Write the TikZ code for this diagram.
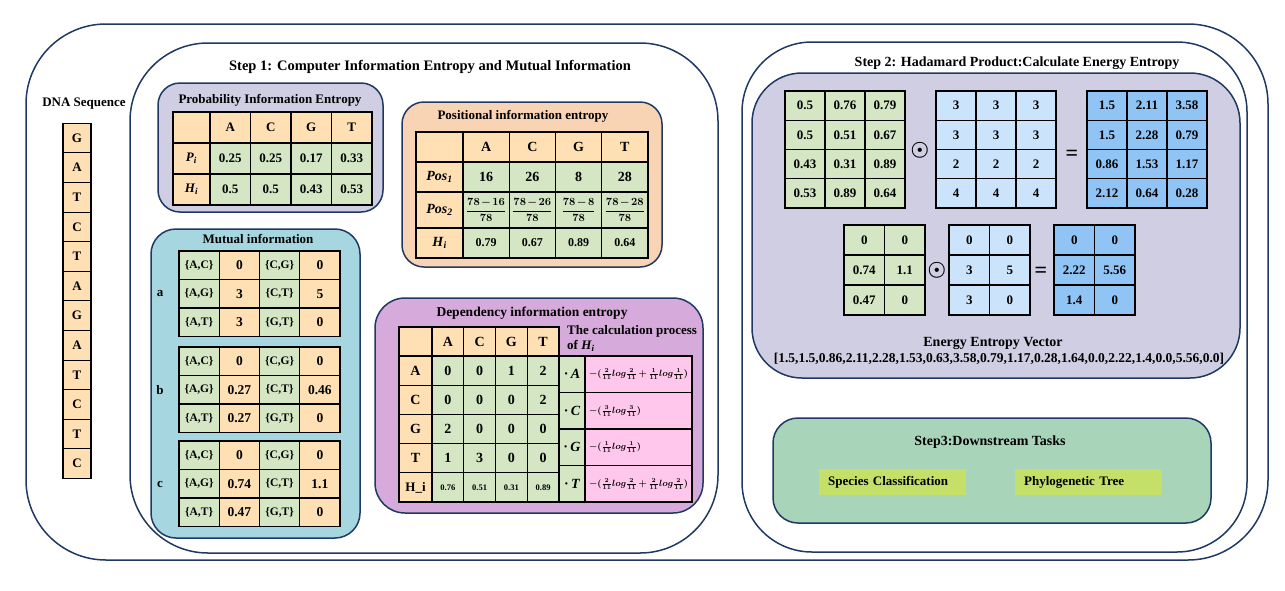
\documentclass[tikz,border=0pt]{standalone}
\usepackage{fontspec}
\setmainfont{Liberation Serif}
\usepackage{amsmath}

\definecolor{navy}{RGB}{31,56,100}
\definecolor{lavender}{RGB}{208,206,226}
\definecolor{peach}{RGB}{248,212,180}
\definecolor{miteal}{RGB}{166,215,224}
\definecolor{deppurple}{RGB}{214,170,219}
\definecolor{cellorange}{RGB}{254,224,180}
\definecolor{cellgreen}{RGB}{212,230,196}
\definecolor{calcpink}{RGB}{255,199,236}
\definecolor{lightblue}{RGB}{204,228,251}
\definecolor{midblue}{RGB}{143,196,245}
\definecolor{stepgreen}{RGB}{168,212,186}
\definecolor{tasklime}{RGB}{197,224,105}

\newcommand\fsz[1]{\fontsize{#1}{#1}\selectfont\bfseries\boldmath}
\newcommand\itsub[2]{\textit{#1}\textsubscript{\textit{#2}}}

\tikzset{
  frame/.style={draw=navy, line width=1.5pt},
  cellbox/.style={draw=black, line width=1.1pt, inner sep=0pt, font=\fsz{13}},
  ocell/.style={cellbox, fill=cellorange},
  gcell/.style={cellbox, fill=cellgreen},
  pcell/.style={cellbox, fill=calcpink},
  lbcell/.style={cellbox, fill=lightblue},
  bcell/.style={cellbox, fill=midblue},
  boxtitle/.style={font=\fsz{13}},
  tasknode/.style={fill=tasklime, inner xsep=9pt, text width=129pt, minimum height=26pt, anchor=west, font=\fsz{13}}
}

\begin{document}
\begin{tikzpicture}[x=1pt,y=-1pt]
\useasboundingbox (0,0) rectangle (1285,590);

% Outer frame and the two step frames
\draw[frame, rounded corners=80pt] (26,24) rectangle (1268,560);
\draw[frame, rounded corners=78pt] (130,43) rectangle (718,553);
\draw[frame, rounded corners=70pt] (742,42) rectangle (1247,552);

% DNA sequence (left)
\node[font=\fsz{13}] (dnatitle) at (84,104) {DNA Sequence};
\foreach \b [count=\i] in {G,A,T,C,T,A,G,A,T,C,T,C}
  \node[ocell, minimum width=28pt, minimum height=29.6pt] (dna\i) at (77,{123.3+29.6*(\i-0.5)}) {\b};

% Step 1
\node[font=\fsz{14.5}] (steponetitle) at (430,67) {Step 1: Computer Information Entropy and Mutual Information};

% Probability information entropy
\draw[frame, fill=lavender, rounded corners=22pt] (158,83) rectangle (383,212);
\node[boxtitle] (probtitle) at (270,100) {Probability Information Entropy};
\begin{scope}[every node/.append style={minimum width=40.5pt, minimum height=31pt, font=\fsz{14}}]
  \foreach \n/\y [count=\r] in {{}/127.5, \itsub{P}{i}/158.5, \itsub{H}{i}/189.5}
    \node[ocell, minimum width=37pt] (probr\r) at (191.5,\y) {\n};
  \foreach \b/\p/\h [count=\i] in {A/0.25/0.5, C/0.25/0.5, G/0.17/0.43, T/0.33/0.53}{
    \node[ocell] (probc\i) at ({210+40.5*(\i-0.5)},127.5) {\b};
    \node[gcell] (probp\i) at ({210+40.5*(\i-0.5)},158.5) {\p};
    \node[gcell] (probh\i) at ({210+40.5*(\i-0.5)},189.5) {\h};
  }
\end{scope}

% Positional information entropy
\draw[frame, fill=peach, rounded corners=22pt] (402,102) rectangle (662,267);
\node[boxtitle] (postitle) at (523,116) {Positional information entropy};
\begin{scope}[every node/.append style={minimum width=46.25pt}]
  \foreach \n/\y/\h [count=\r] in {{}/147/30, \itsub{Pos}{1}/177/30, \itsub{Pos}{2}/210/36, \itsub{H}{i}/243/30}
    \node[ocell, minimum width=47pt, minimum height=\h pt, font=\fsz{14}] (posr\r) at (439.5,\y) {\n};
  \foreach \b/\p/\h [count=\i] in {A/16/0.79, C/26/0.67, G/8/0.89, T/28/0.64}{
    \node[ocell, minimum height=30pt, font=\fsz{14}] (posc\i) at ({463+46.25*(\i-0.5)},147) {\b};
    \node[gcell, minimum height=30pt, font=\fsz{14}] (posa\i) at ({463+46.25*(\i-0.5)},177) {\p};
    \node[gcell, minimum height=36pt, font=\fsz{10.5}] (posb\i) at ({463+46.25*(\i-0.5)},210) {$\dfrac{78\mskip2mu{-}\mskip2mu\p}{78}$};
    \node[gcell, minimum height=30pt, font=\fsz{12}] (posh\i) at ({463+46.25*(\i-0.5)},243) {\h};
  }
\end{scope}

% Mutual information
\draw[frame, fill=miteal, rounded corners=25pt] (151,229) rectangle (360,538);
\node[boxtitle] (mititle) at (258,239) {Mutual information};
\foreach \tab/\ytop/\vag/\vct/\vat in {a/251/3/5/3, b/347/0.27/0.46/0.27, c/441/0.74/1.1/0.47}{
  \node[font=\fsz{13}] (mi\tab) at (160,{\ytop+43}) {\tab};
  \foreach \pa/\pb/\v/\qa/\qb/\w [count=\r] in {A/C/0/C/G/0, A/G/\vag/C/T/\vct, A/T/\vat/G/T/0}{
    \node[gcell, minimum width=40.25pt, minimum height=28.5pt, font=\fsz{11.5}] (mi\tab\r-p) at (199.1,{\ytop+28.5*(\r-0.5)}) {\{\pa,\pb\}};
    \node[ocell, minimum width=40.25pt, minimum height=28.5pt, font=\fsz{13.5}] (mi\tab\r-v) at (239.4,{\ytop+28.5*(\r-0.5)}) {\v};
    \node[gcell, minimum width=40.25pt, minimum height=28.5pt, font=\fsz{11.5}] (mi\tab\r-q) at (279.6,{\ytop+28.5*(\r-0.5)}) {\{\qa,\qb\}};
    \node[ocell, minimum width=40.25pt, minimum height=28.5pt, font=\fsz{13.5}] (mi\tab\r-w) at (319.9,{\ytop+28.5*(\r-0.5)}) {\w};
  }
}

% Dependency information entropy
\draw[frame, fill=deppurple, rounded corners=30pt] (375,298) rectangle (703,513);
\node[font=\fsz{13.5}] (deptitle) at (532,313) {Dependency information entropy};
\node[ocell, minimum width=33pt, minimum height=29pt] (dephead) at (415.5,341.5) {};
\foreach \b [count=\k] in {A,C,G,T}
  \node[ocell, minimum width=31.75pt, minimum height=29pt, font=\fsz{14}] (depc\k) at ({432+31.75*(\k-0.5)},341.5) {\b};
\foreach \n/\va/\vc/\vg/\vt [count=\r] in {A/0/0/1/2, C/0/0/0/2, G/2/0/0/0, T/1/3/0/0}{
  \node[ocell, minimum width=33pt, minimum height=29.2pt, font=\fsz{14}] (depr\r) at (415.5,{356+29.2*(\r-0.5)}) {\n};
  \foreach \v [count=\k] in {\va,\vc,\vg,\vt}
    \node[gcell, minimum width=31.75pt, minimum height=29.2pt, font=\fsz{14}] (dep\r\k) at ({432+31.75*(\k-0.5)},{356+29.2*(\r-0.5)}) {\v};
}
\node[ocell, minimum width=33pt, minimum height=29.2pt] (depr5) at (415.5,487.4) {H\_i};
\foreach \v [count=\k] in {0.76,0.51,0.31,0.89}
  \node[gcell, minimum width=31.75pt, minimum height=29.2pt, font=\fsz{8.5}] (deph\k) at ({432+31.75*(\k-0.5)},487.4) {\v};

% The calculation process
\node[font=\fsz{13}, align=left, anchor=north west, inner sep=0pt] (calctitle) at (567,325) {The calculation process\\[2pt]of \itsub{H}{i}};
\foreach \sym/\frm [count=\r] in {A/{$-(\frac{2}{11}log\frac{2}{11}+\frac{1}{11}log\frac{1}{11})$},
    C/{$-(\frac{3}{11}log\frac{3}{11})$},
    G/{$-(\frac{1}{11}log\frac{1}{11})$},
    T/{$-(\frac{2}{11}log\frac{2}{11}+\frac{2}{11}log\frac{2}{11})$}}{
  \node[gcell, minimum width=26pt, minimum height=36.5pt, font=\fsz{14}] (calcs\r) at (572,{356+36.5*(\r-0.5)}) {\textperiodcentered\,\textit{\sym}};
  \node[pcell, minimum width=107pt, minimum height=36.5pt, text width=99pt, align=left, font=\fsz{9}] (calcf\r) at (638.5,{356+36.5*(\r-0.5)}) {\frm};
}

% Step 2
\node[font=\fsz{14}] (steptwotitle) at (1017,63) {Step 2: Hadamard Product:Calculate Energy Entropy};
\draw[frame, fill=lavender, rounded corners=50pt] (752,73) rectangle (1240,378);

% First product (4 x 3)
\begin{scope}[every node/.append style={minimum width=40pt, minimum height=29.25pt, font=\fsz{13.5}}]
\foreach \row [count=\r] in {{0.5,0.76,0.79},{0.5,0.51,0.67},{0.43,0.31,0.89},{0.53,0.89,0.64}}
  \foreach \v [count=\k] in \row
    \node[gcell] (ma\r\k) at ({785+40*(\k-0.5)},{91+29.25*(\r-0.5)}) {\v};
\foreach \row [count=\r] in {{3,3,3},{3,3,3},{2,2,2},{4,4,4}}
  \foreach \v [count=\k] in \row
    \node[lbcell] (mb\r\k) at ({936+40*(\k-0.5)},{91+29.25*(\r-0.5)}) {\v};
\foreach \row [count=\r] in {{1.5,2.11,3.58},{1.5,2.28,0.79},{0.86,1.53,1.17},{2.12,0.64,0.28}}
  \foreach \v [count=\k] in \row
    \node[bcell] (mc\r\k) at ({1087+40*(\k-0.5)},{91+29.25*(\r-0.5)}) {\v};
\end{scope}
\node[font=\fsz{22}] (odota) at (920,150) {$\odot$};
\node[font=\fsz{22}] (eqa) at (1072,155) {=};

% Second product (3 x 2)
\begin{scope}[every node/.append style={minimum width=40.5pt, minimum height=30pt, font=\fsz{12.5}}]
\foreach \row [count=\r] in {{0,0},{0.74,1.1},{0.47,0}}
  \foreach \v [count=\k] in \row
    \node[gcell] (na\r\k) at ({844+40.5*(\k-0.5)},{225+30*(\r-0.5)}) {\v};
\foreach \row [count=\r] in {{0,0},{3,5},{3,0}}
  \foreach \v [count=\k] in \row
    \node[lbcell] (nb\r\k) at ({949+40.5*(\k-0.5)},{225+30*(\r-0.5)}) {\v};
\foreach \row [count=\r] in {{0,0},{2.22,5.56},{1.4,0}}
  \foreach \v [count=\k] in \row
    \node[bcell] (nc\r\k) at ({1054+40.5*(\k-0.5)},{225+30*(\r-0.5)}) {\v};
\end{scope}
\node[font=\fsz{22}] (odotb) at (937,270) {$\odot$};
\node[font=\fsz{22}] (eqb) at (1041,272) {=};

% Energy entropy vector
\node[font=\fsz{14}] (vectitle) at (993,343) {Energy Entropy Vector};
\node[font=\fsz{13.5}] (vecvals) at (999,359) {[1.5,1.5,0.86,2.11,2.28,1.53,0.63,3.58,0.79,1.17,0.28,1.64,0.0,2.22,1.4,0.0,5.56,0.0]};

% Step 3
\draw[frame, fill=stepgreen, rounded corners=25pt] (773,418) rectangle (1211,523);
\node[font=\fsz{14}] (stepthreetitle) at (990,442) {Step3:Downstream Tasks};
\node[tasknode] (species) at (819,482) {Species Classification};
\node[tasknode] (phylo) at (1015,482) {Phylogenetic Tree};
\end{tikzpicture}
\end{document}
